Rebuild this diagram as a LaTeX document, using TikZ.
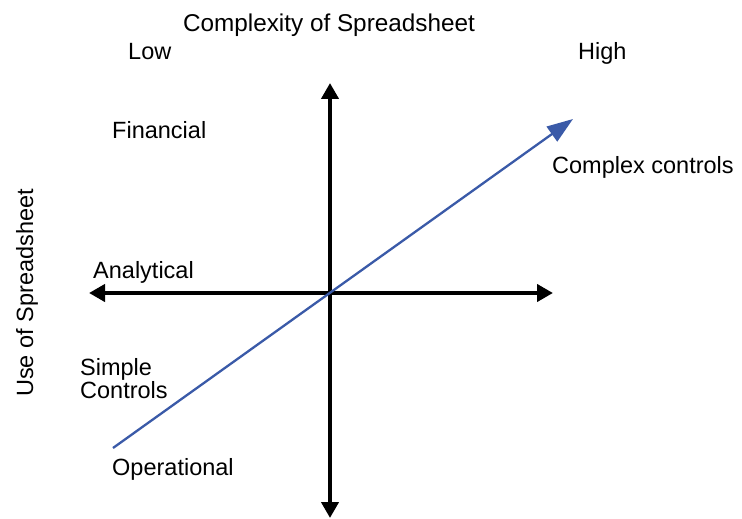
\documentclass[tikz,border=0pt]{standalone}
\usepackage{fontspec}
\setmainfont{Liberation Sans}
\usetikzlibrary{arrows.meta}
\definecolor{trendblue}{HTML}{3A5AA8}
\begin{document}
\begin{tikzpicture}[x=1pt,y=-1pt,
  lbl/.style={anchor=base west,inner sep=0pt,font=\fontsize{23.5}{23}\selectfont},
  axis/.style={line width=4pt,{Triangle[length=16pt,width=17pt]}-{Triangle[length=16pt,width=17pt]}},
  trend/.style={line width=2.3pt,trendblue,-{Triangle[length=26pt,width=18pt]}}]
\useasboundingbox (0,0) rectangle (742,519);
% axes
\coordinate (top) at (330,83);
\coordinate (bottom) at (330,518);
\coordinate (left) at (89,293);
\coordinate (right) at (553,293);
\draw[axis] (bottom) -- (top);
\draw[axis] (left) -- (right);
% trend line
\coordinate (tstart) at (113,448);
\coordinate (tend) at (573,119);
\draw[trend] (tstart) -- (tend);
% labels
\node[lbl,anchor=base,font=\fontsize{24.3}{24}\selectfont] (title) at (329,32) {Complexity of Spreadsheet};
\node[lbl] (low) at (128,60) {Low};
\node[lbl] (high) at (578,60) {High};
\node[lbl] (fin) at (112,138) {Financial};
\node[lbl] (cc) at (552,173) {Complex controls};
\node[lbl] (ana) at (93,278) {Analytical};
\node[lbl,align=left,anchor=north west] (sc) at (80,358) {Simple\\Controls};
\node[lbl] (op) at (112,475) {Operational};
\node[lbl,anchor=base,rotate=90] (use) at (33,293) {Use of Spreadsheet};
\end{tikzpicture}
\end{document}
